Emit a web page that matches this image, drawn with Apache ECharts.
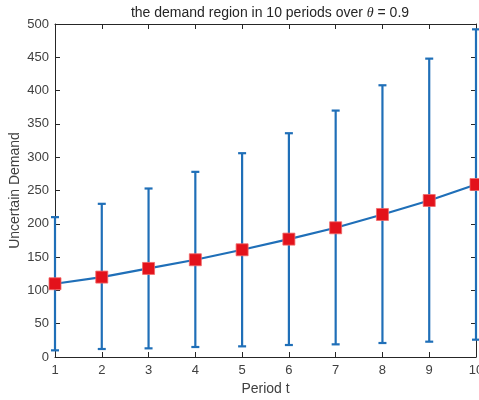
<!DOCTYPE html>
<html><head><meta charset="utf-8">
<script src="https://cdn.jsdelivr.net/npm/echarts@6/dist/echarts.min.js"></script>
<style>html,body{margin:0;padding:0;background:#fff}#c{width:479px;height:400px}</style>
</head><body><div id="c"></div>
<script>
const periods = [1,2,3,4,5,6,7,8,9,10];
const meanDemand = [110,120,133,146,161,177,194,214,235,259];
const upperDemand = [210,230,253,278,306,336,370,408,448,492];
const lowerDemand = [10,12,13,15,16,18,19,21,23,26];
const yTicks = [0,50,100,150,200,250,300,350,400,450,500];

const blue = '#1f6fb8';
const axisColor = '#262626';
const textColor = '#404040';
const font = 'Liberation Sans, Arial, sans-serif';

const chart = echarts.init(document.getElementById('c'), null, {renderer:'canvas'});
const errData = periods.map((p,i)=>[p, lowerDemand[i], upperDemand[i]]);
const meanData = periods.map((p,i)=>[p, meanDemand[i]]);

chart.setOption({
  backgroundColor:'#fff',
  animation:false,
  title:{
    text:'{a|the demand region in 10 periods over }{i|θ}{a| = 0.9}',
    left:265, top:1, textAlign:'center',
    textStyle:{fontWeight:'normal', rich:{
      a:{fontSize:14, color:'#262626', fontFamily:font, fontWeight:'normal'},
      i:{fontSize:14, color:'#262626', fontFamily:'Liberation Serif, serif', fontStyle:'italic', fontWeight:'normal'}
    }}
  },
  grid:{left:55, right:3, top:24, bottom:43, containLabel:false, outerBoundsMode:'none'},
  xAxis:[{
    type:'value', min:1, max:10, interval:1,
    name:'Period t', nameLocation:'middle', nameGap:25, nameMoveOverlap:false,
    nameTextStyle:{fontSize:14, color:textColor, fontFamily:font},
    axisLine:{show:true, onZero:false, lineStyle:{color:axisColor, width:1}},
    axisTick:{show:true, inside:true, length:5, lineStyle:{color:axisColor}},
    axisLabel:{fontSize:13, color:textColor, fontFamily:font, margin:7},
    splitLine:{show:false}
  },{
    type:'value', position:'top', min:1, max:10, interval:1,
    axisLine:{show:true, onZero:false, lineStyle:{color:axisColor, width:1}},
    axisTick:{show:true, inside:true, length:5, lineStyle:{color:axisColor}},
    axisLabel:{show:false}, splitLine:{show:false}
  }],
  yAxis:[{
    type:'value', min:0, max:500, interval:50,
    name:'Uncertain Demand', nameLocation:'middle', nameGap:33, nameRotate:90, nameMoveOverlap:false,
    nameTextStyle:{fontSize:14, color:textColor, fontFamily:font},
    axisLine:{show:true, lineStyle:{color:axisColor, width:1}},
    axisTick:{show:true, inside:true, length:5, lineStyle:{color:axisColor}},
    axisLabel:{fontSize:13, color:textColor, fontFamily:font, margin:6},
    splitLine:{show:false}
  },{
    type:'value', position:'right', min:0, max:500, interval:50,
    axisLine:{show:true, lineStyle:{color:axisColor, width:1}},
    axisTick:{show:true, inside:true, length:5, lineStyle:{color:axisColor}},
    axisLabel:{show:false}, splitLine:{show:false}
  }],
  series:[{
    type:'custom',
    data:errData,
    encode:{x:0, y:[1,2]},
    clip:false,
    z:2,
    renderItem:function(params, api){
      const x = api.value(0);
      const lo = api.coord([x, api.value(1)]);
      const hi = api.coord([x, api.value(2)]);
      const hw = 4;
      const st = {stroke:blue, lineWidth:2.2};
      return {type:'group', children:[
        {type:'line', shape:{x1:lo[0], y1:lo[1], x2:hi[0], y2:hi[1]}, style:st},
        {type:'line', shape:{x1:lo[0]-hw, y1:lo[1], x2:lo[0]+hw, y2:lo[1]}, style:st},
        {type:'line', shape:{x1:hi[0]-hw, y1:hi[1], x2:hi[0]+hw, y2:hi[1]}, style:st}
      ]};
    }
  },{
    type:'line',
    data:meanData,
    z:3,
    clip:false,
    lineStyle:{color:blue, width:2.2},
    symbol:'rect', symbolSize:12,
    itemStyle:{color:'#e3121b', borderColor:'#f06a6a', borderWidth:0.8},
    showSymbol:true
  }]
});
</script></body></html>
